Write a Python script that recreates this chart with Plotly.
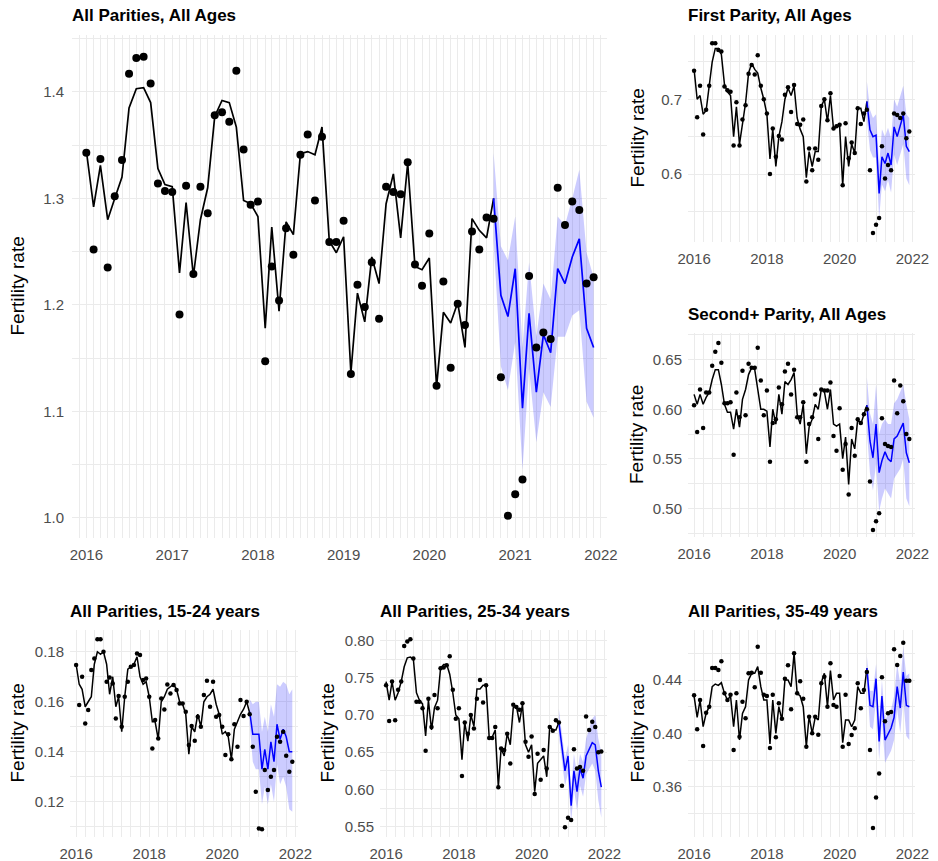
import plotly.graph_objects as go
import pandas as pd

# ---------------- data ----------------
months = pd.date_range("2016-01-01", periods=72, freq="MS")
fit_dates = months[:58]          # Jan 2016 .. Oct 2020
fc_dates = months[57:]           # Oct 2020 .. Dec 2021

# All Parities, All Ages
all_obs = [1.343, 1.252, 1.337, 1.235, 1.302, 1.336, 1.417, 1.432, 1.433, 1.408, 1.314, 1.307,
           1.306, 1.191, 1.312, 1.229, 1.311, 1.286, 1.378, 1.381, 1.372, 1.420, 1.346, 1.294,
           1.297, 1.147, 1.236, 1.204, 1.272, 1.247, 1.341, 1.360, 1.298, 1.358, 1.259, 1.259,
           1.279, 1.135, 1.219, 1.198, 1.240, 1.187, 1.311, 1.306, 1.304, 1.334, 1.238, 1.218,
           1.267, 1.124, 1.222, 1.141, 1.201, 1.181, 1.269, 1.252, 1.282, 1.281, 1.132, 1.002,
           1.022, 1.036, 1.227, 1.160, 1.174, 1.168, 1.310, 1.275, 1.297, 1.289, 1.220, 1.226]
all_fit = [1.345, 1.292, 1.331, 1.280, 1.300, 1.320, 1.385, 1.403, 1.404, 1.390, 1.328, 1.313,
           1.311, 1.230, 1.296, 1.227, 1.280, 1.310, 1.377, 1.392, 1.390, 1.367, 1.298, 1.295,
           1.283, 1.178, 1.273, 1.194, 1.278, 1.266, 1.342, 1.344, 1.341, 1.367, 1.260, 1.249,
           1.264, 1.136, 1.211, 1.184, 1.245, 1.220, 1.295, 1.323, 1.263, 1.333, 1.236, 1.233,
           1.244, 1.123, 1.193, 1.183, 1.202, 1.160, 1.281, 1.270, 1.263, 1.300]
all_fc = [1.300, 1.209, 1.189, 1.234, 1.103, 1.192, 1.118, 1.172, 1.155, 1.234, 1.220, 1.245, 1.262, 1.178, 1.160]
all_hi = [1.343, 1.255, 1.242, 1.283, 1.160, 1.240, 1.170, 1.220, 1.205, 1.283, 1.275, 1.300, 1.327, 1.249, 1.226]
all_lo = [1.260, 1.142, 1.120, 1.165, 1.045, 1.140, 1.071, 1.118, 1.104, 1.170, 1.170, 1.190, 1.195, 1.109, 1.094]

# First Parity, All Ages
p1_obs = [0.738, 0.676, 0.718, 0.653, 0.686, 0.718, 0.775, 0.775, 0.766, 0.764, 0.717, 0.712,
          0.710, 0.638, 0.696, 0.638, 0.673, 0.692, 0.734, 0.746, 0.733, 0.759, 0.718, 0.700,
          0.681, 0.600, 0.661, 0.623, 0.651, 0.646, 0.706, 0.716, 0.683, 0.719, 0.667, 0.666,
          0.673, 0.590, 0.634, 0.605, 0.634, 0.619, 0.691, 0.700, 0.672, 0.708, 0.661, 0.664,
          0.666, 0.585, 0.668, 0.621, 0.642, 0.628, 0.688, 0.667, 0.681, 0.686, 0.605, 0.521,
          0.532, 0.541, 0.637, 0.594, 0.612, 0.605, 0.681, 0.679, 0.675, 0.681, 0.648, 0.657]
p1_fit = [0.740, 0.700, 0.705, 0.680, 0.685, 0.720, 0.750, 0.768, 0.768, 0.760, 0.720, 0.710,
          0.705, 0.650, 0.690, 0.640, 0.670, 0.695, 0.735, 0.748, 0.740, 0.735, 0.715, 0.700,
          0.680, 0.620, 0.660, 0.610, 0.650, 0.670, 0.700, 0.715, 0.705, 0.718, 0.675, 0.660,
          0.650, 0.595, 0.630, 0.610, 0.630, 0.630, 0.690, 0.700, 0.670, 0.705, 0.660, 0.665,
          0.665, 0.585, 0.650, 0.610, 0.640, 0.628, 0.688, 0.688, 0.670, 0.697]
p1_fc = [0.697, 0.659, 0.650, 0.652, 0.574, 0.623, 0.614, 0.628, 0.612, 0.663, 0.650, 0.666, 0.679, 0.637, 0.630]
p1_hi = [0.724, 0.686, 0.675, 0.680, 0.612, 0.660, 0.650, 0.662, 0.648, 0.700, 0.690, 0.705, 0.718, 0.680, 0.675]
p1_lo = [0.672, 0.632, 0.622, 0.622, 0.540, 0.586, 0.577, 0.592, 0.575, 0.626, 0.612, 0.627, 0.640, 0.594, 0.585]

# Second+ Parity, All Ages
p2_obs = [0.604, 0.577, 0.620, 0.581, 0.617, 0.617, 0.644, 0.658, 0.667, 0.647, 0.606, 0.606,
          0.607, 0.554, 0.617, 0.592, 0.639, 0.594, 0.646, 0.642, 0.642, 0.662, 0.629, 0.594,
          0.619, 0.547, 0.586, 0.590, 0.622, 0.605, 0.638, 0.646, 0.615, 0.640, 0.592, 0.592,
          0.607, 0.547, 0.585, 0.592, 0.615, 0.570, 0.620, 0.619, 0.619, 0.627, 0.573, 0.558,
          0.601, 0.539, 0.565, 0.514, 0.581, 0.553, 0.590, 0.586, 0.595, 0.600, 0.527, 0.478,
          0.487, 0.495, 0.591, 0.565, 0.563, 0.562, 0.629, 0.596, 0.624, 0.608, 0.575, 0.570]
p2_fit = [0.615, 0.605, 0.615, 0.605, 0.612, 0.617, 0.630, 0.640, 0.640, 0.625, 0.605, 0.597,
          0.597, 0.580, 0.600, 0.582, 0.610, 0.620, 0.635, 0.642, 0.640, 0.620, 0.600, 0.600,
          0.598, 0.562, 0.600, 0.585, 0.615, 0.595, 0.628, 0.625, 0.630, 0.637, 0.595, 0.585,
          0.605, 0.555, 0.582, 0.590, 0.605, 0.600, 0.620, 0.618, 0.600, 0.620, 0.585, 0.583,
          0.585, 0.550, 0.572, 0.524, 0.570, 0.560, 0.590, 0.585, 0.595, 0.604]
p2_fc = [0.604, 0.568, 0.551, 0.585, 0.536, 0.548, 0.557, 0.550, 0.547, 0.570, 0.573, 0.580, 0.586, 0.556, 0.546]
p2_hi = [0.632, 0.596, 0.585, 0.625, 0.575, 0.585, 0.590, 0.585, 0.585, 0.606, 0.610, 0.618, 0.625, 0.605, 0.590]
p2_lo = [0.578, 0.535, 0.518, 0.545, 0.497, 0.510, 0.520, 0.515, 0.510, 0.530, 0.535, 0.540, 0.550, 0.510, 0.502]

# All Parities, 15-24 years
a1_obs = [0.1747, 0.1587, 0.1700, 0.1513, 0.1567, 0.1727, 0.1773, 0.1850, 0.1850, 0.1800, 0.1680, 0.1697,
          0.1673, 0.1533, 0.1623, 0.1500, 0.1620, 0.1680, 0.1740, 0.1747, 0.1793, 0.1787, 0.1687, 0.1693,
          0.1620, 0.1413, 0.1527, 0.1453, 0.1613, 0.1569, 0.1669, 0.1633, 0.1667, 0.1647, 0.1593, 0.1593,
          0.1560, 0.1427, 0.1503, 0.1444, 0.1540, 0.1500, 0.1627, 0.1684, 0.1580, 0.1680, 0.1540, 0.1547,
          0.1500, 0.1387, 0.1470, 0.1370, 0.1510, 0.1420, 0.1607, 0.1543, 0.1600, 0.1550, 0.1420, 0.1240,
          0.1093, 0.1090, 0.1327, 0.1247, 0.1300, 0.1327, 0.1460, 0.1440, 0.1480, 0.1384, 0.1320, 0.1360]
a1_fit = [0.1750, 0.1670, 0.1650, 0.1580, 0.1600, 0.1620, 0.1750, 0.1800, 0.1790, 0.1800, 0.1750, 0.1630,
          0.1700, 0.1580, 0.1620, 0.1480, 0.1620, 0.1730, 0.1740, 0.1750, 0.1780, 0.1700, 0.1670, 0.1680,
          0.1620, 0.1520, 0.1520, 0.1450, 0.1600, 0.1620, 0.1650, 0.1660, 0.1670, 0.1650, 0.1600, 0.1590,
          0.1550, 0.1390, 0.1500, 0.1480, 0.1550, 0.1500, 0.1600, 0.1620, 0.1630, 0.1650, 0.1590, 0.1550,
          0.1470, 0.1480, 0.1460, 0.1370, 0.1490, 0.1520, 0.1550, 0.1570, 0.1600, 0.1555]
a1_fc = [0.1560, 0.1470, 0.1470, 0.1470, 0.1330, 0.1410, 0.1330, 0.1440, 0.1360, 0.1510, 0.1450, 0.1490, 0.1460, 0.1400, 0.1400]
a1_hi = [0.1610, 0.1590, 0.1600, 0.1600, 0.1480, 0.1540, 0.1480, 0.1590, 0.1540, 0.1670, 0.1660, 0.1680, 0.1670, 0.1630, 0.1650]
a1_lo = [0.1510, 0.1360, 0.1330, 0.1330, 0.1190, 0.1260, 0.1190, 0.1270, 0.1200, 0.1350, 0.1270, 0.1300, 0.1260, 0.1170, 0.1160]

# All Parities, 25-34 years
a2_obs = [0.740, 0.692, 0.745, 0.693, 0.734, 0.745, 0.793, 0.799, 0.802, 0.776, 0.718, 0.718,
          0.709, 0.652, 0.722, 0.684, 0.727, 0.709, 0.763, 0.764, 0.767, 0.779, 0.734, 0.695,
          0.709, 0.618, 0.690, 0.675, 0.700, 0.682, 0.722, 0.747, 0.717, 0.740, 0.669, 0.669,
          0.684, 0.603, 0.655, 0.653, 0.675, 0.635, 0.714, 0.711, 0.707, 0.716, 0.664, 0.644,
          0.671, 0.594, 0.648, 0.613, 0.653, 0.628, 0.684, 0.679, 0.693, 0.690, 0.605, 0.549,
          0.562, 0.559, 0.654, 0.628, 0.630, 0.625, 0.698, 0.680, 0.691, 0.684, 0.650, 0.651]
a2_fit = [0.745, 0.720, 0.745, 0.720, 0.730, 0.745, 0.765, 0.777, 0.778, 0.775, 0.730, 0.720,
          0.715, 0.672, 0.720, 0.680, 0.710, 0.720, 0.763, 0.768, 0.768, 0.755, 0.730, 0.700,
          0.695, 0.640, 0.690, 0.665, 0.700, 0.685, 0.735, 0.735, 0.740, 0.740, 0.670, 0.670,
          0.680, 0.603, 0.655, 0.645, 0.675, 0.660, 0.710, 0.712, 0.690, 0.714, 0.660, 0.650,
          0.660, 0.597, 0.635, 0.640, 0.645, 0.617, 0.685, 0.680, 0.680, 0.690]
a2_fc = [0.690, 0.657, 0.625, 0.645, 0.578, 0.625, 0.597, 0.628, 0.615, 0.645, 0.655, 0.663, 0.660, 0.625, 0.603]
a2_hi = [0.708, 0.672, 0.642, 0.660, 0.600, 0.648, 0.620, 0.648, 0.637, 0.668, 0.680, 0.695, 0.700, 0.668, 0.650]
a2_lo = [0.672, 0.635, 0.605, 0.622, 0.555, 0.600, 0.572, 0.605, 0.590, 0.620, 0.628, 0.635, 0.625, 0.585, 0.562]

# All Parities, 35-49 years
a3_obs = [0.4285, 0.4030, 0.4250, 0.3905, 0.4155, 0.4200, 0.4490, 0.4490, 0.4475, 0.4540, 0.4300, 0.4250,
          0.4290, 0.3875, 0.4300, 0.3975, 0.4237, 0.4113, 0.4450, 0.4455, 0.4345, 0.4650, 0.4455, 0.4290,
          0.4280, 0.3890, 0.4290, 0.3970, 0.4225, 0.4110, 0.4410, 0.4510, 0.4180, 0.4600, 0.4300, 0.4390,
          0.4260, 0.3900, 0.4125, 0.4000, 0.4125, 0.3990, 0.4375, 0.4425, 0.4200, 0.4525, 0.4213, 0.4200,
          0.4430, 0.3900, 0.4290, 0.3920, 0.3988, 0.4038, 0.4375, 0.4188, 0.4325, 0.4460, 0.3875, 0.3290,
          0.3520, 0.3700, 0.4420, 0.4090, 0.4150, 0.4160, 0.4630, 0.4513, 0.4580, 0.4680, 0.4395, 0.4395]
a3_fit = [0.428, 0.412, 0.425, 0.405, 0.415, 0.420, 0.435, 0.437, 0.436, 0.438, 0.430, 0.425,
          0.428, 0.405, 0.425, 0.395, 0.415, 0.420, 0.440, 0.445, 0.445, 0.450, 0.435, 0.425,
          0.425, 0.392, 0.425, 0.400, 0.420, 0.410, 0.440, 0.440, 0.435, 0.460, 0.430, 0.428,
          0.420, 0.390, 0.413, 0.400, 0.412, 0.410, 0.438, 0.445, 0.420, 0.447, 0.425, 0.430,
          0.430, 0.393, 0.410, 0.410, 0.405, 0.410, 0.435, 0.430, 0.430, 0.449]
a3_fc = [0.449, 0.421, 0.420, 0.441, 0.394, 0.428, 0.395, 0.399, 0.404, 0.412, 0.435, 0.419, 0.446, 0.421, 0.420]
a3_hi = [0.458, 0.432, 0.432, 0.452, 0.408, 0.440, 0.410, 0.414, 0.418, 0.428, 0.452, 0.437, 0.465, 0.443, 0.445]
a3_lo = [0.440, 0.405, 0.403, 0.425, 0.380, 0.410, 0.378, 0.382, 0.387, 0.395, 0.418, 0.400, 0.425, 0.398, 0.395]

# ---------------- figure ----------------
W, H = 938, 861
FONT = "Liberation Sans, Arial, sans-serif"
GRID = "#EBEBEB"
TICKC = "#4D4D4D"
XRANGE = ["2015-11-01", "2022-01-27"]


def fx(p):
    return p / W


def fy(p):
    return 1 - p / H


fig = go.Figure()
annotations = []
layout_axes = {}

panels = [
    # title, obs, fit, fc, lo, hi, (x0,x1,y0,y1) px, yrange, dtick, minor, fmt, big, ytitle_x
    ("All Parities, All Ages", all_obs, all_fit, all_fc, all_lo, all_hi,
     (72, 607, 35, 538), [0.981, 1.4535], 0.1, 0.05, ".1f", True, 17),
    ("First Parity, All Ages", p1_obs, p1_fit, p1_fc, p1_lo, p1_hi,
     (688, 915, 35, 242), [0.509, 0.786], 0.1, 0.05, ".1f", False, 637),
    ("Second+ Parity, All Ages", p2_obs, p2_fit, p2_fc, p2_lo, p2_hi,
     (688, 915, 333, 537), [0.471, 0.677], 0.05, 0.025, ".2f", False, 637),
    ("All Parities, 15-24 years", a1_obs, a1_fit, a1_fc, a1_lo, a1_hi,
     (70, 298, 630, 837), [0.1059, 0.1887], 0.02, 0.01, ".2f", False, 17),
    ("All Parities, 25-34 years", a2_obs, a2_fit, a2_fc, a2_lo, a2_hi,
     (380, 607, 630, 837), [0.536, 0.8144], 0.05, 0.025, ".2f", False, 327),
    ("All Parities, 35-49 years", a3_obs, a3_fit, a3_fc, a3_lo, a3_hi,
     (688, 915, 630, 837), [0.3223, 0.4775], 0.04, 0.02, ".2f", False, 637),
]

for i, (title, obs, fit, fc, lo, hi, box, yr, dt, mdt, fmt, big, ytx) in enumerate(panels, start=1):
    sfx = "" if i == 1 else str(i)
    xa, ya = "x" + sfx, "y" + sfx
    x0, x1, y0, y1 = box
    lw = 1.7 if big else 1.5
    ms = 8 if big else 4.5

    fig.add_trace(go.Scatter(x=fc_dates, y=hi, mode="lines", line=dict(width=0, color="rgba(0,0,255,0)"),
                             showlegend=False, hoverinfo="skip", xaxis=xa, yaxis=ya))
    fig.add_trace(go.Scatter(x=fc_dates, y=lo, mode="lines", line=dict(width=0, color="rgba(0,0,255,0)"),
                             fill="tonexty", fillcolor="rgba(0,0,255,0.2)",
                             showlegend=False, hoverinfo="skip", xaxis=xa, yaxis=ya))
    fig.add_trace(go.Scatter(x=fit_dates, y=fit, mode="lines", line=dict(color="black", width=lw),
                             showlegend=False, xaxis=xa, yaxis=ya))
    fig.add_trace(go.Scatter(x=fc_dates, y=fc, mode="lines", line=dict(color="#0000FF", width=lw),
                             showlegend=False, xaxis=xa, yaxis=ya))
    fig.add_trace(go.Scatter(x=months, y=obs, mode="markers", marker=dict(color="black", size=ms),
                             showlegend=False, xaxis=xa, yaxis=ya))

    layout_axes["xaxis" + sfx] = dict(
        domain=[fx(x0), fx(x1)], range=XRANGE, type="date", anchor=ya,
        tickformat="%Y", tick0="2016-01-01", dtick="M12" if big else "M24",
        showgrid=True, gridcolor=GRID, gridwidth=1.2,
        minor=dict(tick0="2016-01-01", dtick="M1" if big else "M3", showgrid=True,
                   gridcolor=GRID, gridwidth=0.6),
        zeroline=False, showline=False, ticks="", showspikes=False,
        tickfont=dict(family=FONT, size=15, color=TICKC),
        ticklabelstandoff=6, automargin=False, fixedrange=True,
    )
    layout_axes["yaxis" + sfx] = dict(
        domain=[fy(y1), fy(y0)], range=yr, anchor=xa,
        tick0=0, dtick=dt, tickformat=fmt,
        showgrid=True, gridcolor=GRID, gridwidth=1.2,
        minor=dict(tick0=0, dtick=mdt, showgrid=True, gridcolor=GRID, gridwidth=0.6),
        zeroline=False, showline=False, ticks="", showspikes=False,
        tickfont=dict(family=FONT, size=15, color=TICKC),
        ticklabelstandoff=7 if big else 5, automargin=False, fixedrange=True,
    )

    # panel title
    annotations.append(dict(
        text="<b>" + title + "</b>", xref="paper", yref="paper",
        x=fx(x0 - 2), y=fy(y0 - 19), xanchor="left", yanchor="middle", showarrow=False,
        font=dict(family=FONT, size=17, color="black")))
    # y-axis title
    annotations.append(dict(
        text="Fertility rate", xref="paper", yref="paper",
        x=fx(ytx), y=fy((y0 + y1) / 2), xanchor="center", yanchor="middle",
        textangle=-90, showarrow=False,
        font=dict(family=FONT, size=19, color="black")))

fig.update_layout(
    width=W, height=H, autosize=False,
    margin=dict(l=0, r=0, t=0, b=0),
    paper_bgcolor="white", plot_bgcolor="white",
    showlegend=False, annotations=annotations, hovermode=False,
    **layout_axes,
)

fig.write_html("out.html", config={"displayModeBar": False},
               post_script="document.body.style.margin='0';document.body.style.overflow='hidden';")
